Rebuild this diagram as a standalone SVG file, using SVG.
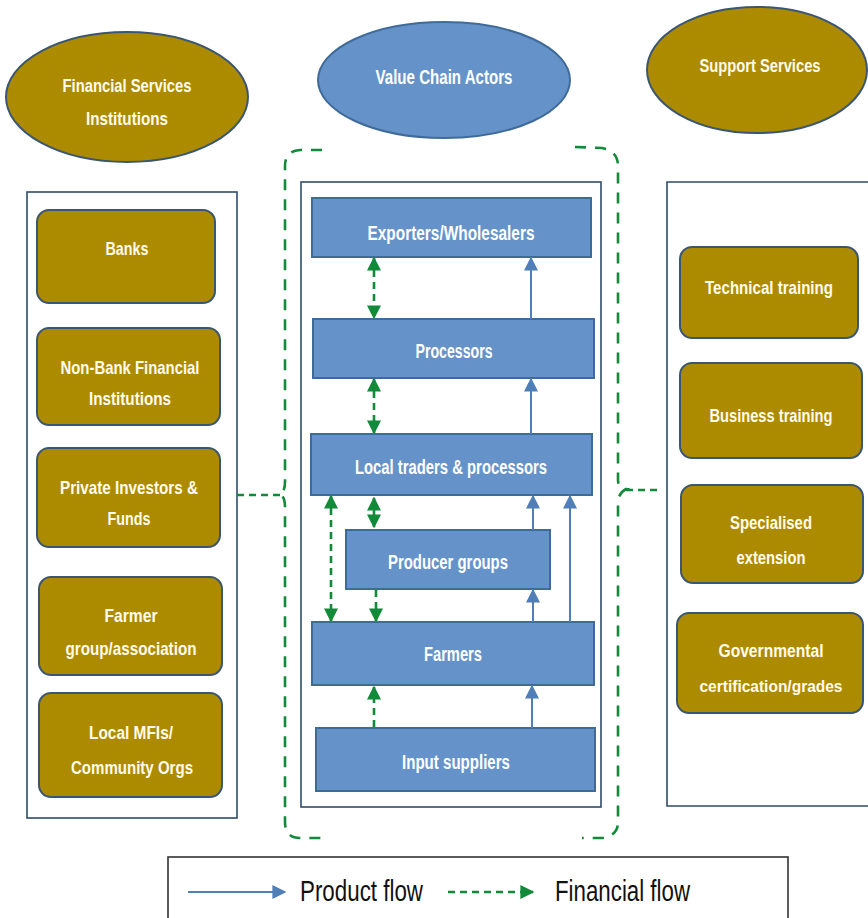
<svg xmlns="http://www.w3.org/2000/svg" width="868" height="918" viewBox="0 0 868 918">
<defs>
<style>
.gold{fill:#AD8B00;stroke:#3B5670;stroke-width:2}
.blue{fill:#6593C9;stroke:#3F6B99;stroke-width:2}
.cont{fill:#FFFFFF;stroke:#2F4C6A;stroke-width:1.6}
.t{font-family:"Liberation Sans",Arial,sans-serif;font-size:19px;font-weight:bold;fill:#FFFBEA;text-anchor:middle}
.tb{font-family:"Liberation Sans",Arial,sans-serif;font-size:20px;font-weight:bold;fill:#FFFFFF;text-anchor:middle}
.lg{font-family:"Liberation Sans",Arial,sans-serif;font-size:29px;fill:#111111}
.prod{fill:none;stroke:#4F7FB6;stroke-width:2}
.fin{fill:none;stroke:#118A3A;stroke-width:2.6;stroke-dasharray:7 5}
.brk{fill:none;stroke:#118A3A;stroke-width:2.6;stroke-dasharray:11 9}
</style>
<marker id="pb" viewBox="0 0 10 10" refX="9" refY="5" markerWidth="14" markerHeight="14" markerUnits="userSpaceOnUse" orient="auto">
<path d="M0,0 L10,5 L0,10 z" fill="#4F7FB6"/>
</marker>
<marker id="fa" viewBox="0 0 10 10" refX="9" refY="5" markerWidth="14" markerHeight="14" markerUnits="userSpaceOnUse" orient="auto-start-reverse">
<path d="M0,0 L10,5 L0,10 z" fill="#118A3A"/>
</marker>
</defs>

<!-- ellipses -->
<g id="fsi"><ellipse cx="127" cy="97" rx="121" ry="65" class="gold"/>
<text class="t" x="127" y="92" textLength="129" lengthAdjust="spacingAndGlyphs">Financial Services</text>
<text class="t" x="127" y="125" textLength="82" lengthAdjust="spacingAndGlyphs">Institutions</text></g>
<g id="vca"><ellipse cx="444" cy="80" rx="126" ry="58" class="blue"/>
<text class="tb" x="444" y="84" textLength="137" lengthAdjust="spacingAndGlyphs">Value Chain Actors</text></g>
<g id="ss"><ellipse cx="757" cy="70" rx="110" ry="63" class="gold"/>
<text class="t" x="760" y="72" textLength="121" lengthAdjust="spacingAndGlyphs">Support Services</text></g>

<!-- containers -->
<g id="left-container"><rect x="27" y="192" width="210" height="626" class="cont"/></g>
<g id="mid-container"><rect x="301" y="182" width="300" height="625" class="cont"/></g>
<g id="right-container"><path d="M868,182 H667 V806 H868" class="cont"/></g>

<!-- left boxes -->
<g id="banks"><rect x="37" y="210" width="178" height="93" rx="12" class="gold"/>
<text class="t" x="127" y="255" textLength="43" lengthAdjust="spacingAndGlyphs">Banks</text></g>
<g id="nbfi"><rect x="37" y="328" width="183" height="97" rx="12" class="gold"/>
<text class="t" x="130" y="374" textLength="139" lengthAdjust="spacingAndGlyphs">Non-Bank Financial</text>
<text class="t" x="130" y="405" textLength="82" lengthAdjust="spacingAndGlyphs">Institutions</text></g>
<g id="pif"><rect x="37" y="448" width="183" height="99" rx="12" class="gold"/>
<text class="t" x="129" y="494" textLength="138" lengthAdjust="spacingAndGlyphs">Private Investors &amp;</text>
<text class="t" x="129" y="525" textLength="43" lengthAdjust="spacingAndGlyphs">Funds</text></g>
<g id="fga"><rect x="39" y="577" width="183" height="98" rx="12" class="gold"/>
<text class="t" x="131" y="622" textLength="53" lengthAdjust="spacingAndGlyphs">Farmer</text>
<text class="t" x="131" y="655" textLength="131" lengthAdjust="spacingAndGlyphs">group/association</text></g>
<g id="mfi"><rect x="39" y="693" width="183" height="104" rx="12" class="gold"/>
<text class="t" x="131" y="739" textLength="84" lengthAdjust="spacingAndGlyphs">Local MFIs/</text>
<text class="t" x="132" y="774" textLength="122" lengthAdjust="spacingAndGlyphs">Community Orgs</text></g>

<!-- right boxes -->
<g id="tech"><rect x="680" y="247" width="178" height="91" rx="12" class="gold"/>
<text class="t" x="769" y="294" textLength="128" lengthAdjust="spacingAndGlyphs">Technical training</text></g>
<g id="bus"><rect x="680" y="363" width="182" height="95" rx="12" class="gold"/>
<text class="t" x="771" y="422" textLength="123" lengthAdjust="spacingAndGlyphs">Business training</text></g>
<g id="ext"><rect x="681" y="485" width="182" height="98" rx="12" class="gold"/>
<text class="t" x="771" y="529" textLength="82" lengthAdjust="spacingAndGlyphs">Specialised</text>
<text class="t" x="771" y="564" textLength="69" lengthAdjust="spacingAndGlyphs">extension</text></g>
<g id="gov"><rect x="677" y="613" width="186" height="100" rx="12" class="gold"/>
<text class="t" x="771" y="657" textLength="105" lengthAdjust="spacingAndGlyphs">Governmental</text>
<text class="t" x="771" y="692" style="font-size:16px" textLength="143" lengthAdjust="spacingAndGlyphs">certification/grades</text></g>

<!-- value chain boxes -->
<g id="exp"><rect x="312" y="198" width="279" height="59" class="blue"/>
<text class="tb" x="451" y="240" textLength="167" lengthAdjust="spacingAndGlyphs">Exporters/Wholesalers</text></g>
<g id="proc"><rect x="313" y="319" width="281" height="59" class="blue"/>
<text class="tb" x="454" y="358" textLength="77" lengthAdjust="spacingAndGlyphs">Processors</text></g>
<g id="ltp"><rect x="311" y="434" width="281" height="61" class="blue"/>
<text class="tb" x="451" y="474" textLength="192" lengthAdjust="spacingAndGlyphs">Local traders &amp; processors</text></g>
<g id="pg"><rect x="346" y="530" width="204" height="59" class="blue"/>
<text class="tb" x="448" y="569" textLength="120" lengthAdjust="spacingAndGlyphs">Producer groups</text></g>
<g id="farm"><rect x="312" y="622" width="282" height="63" class="blue"/>
<text class="tb" x="453" y="661" textLength="58" lengthAdjust="spacingAndGlyphs">Farmers</text></g>
<g id="inp"><rect x="316" y="728" width="279" height="63" class="blue"/>
<text class="tb" x="456" y="769" textLength="108" lengthAdjust="spacingAndGlyphs">Input suppliers</text></g>

<!-- connectors -->
<g id="connectors">
<path class="prod" d="M531,319 V258" marker-end="url(#pb)"/>
<path class="prod" d="M531,434 V379" marker-end="url(#pb)"/>
<path class="prod" d="M533,530 V496" marker-end="url(#pb)"/>
<path class="prod" d="M570,622 V496" marker-end="url(#pb)"/>
<path class="prod" d="M533,622 V590" marker-end="url(#pb)"/>
<path class="prod" d="M532,728 V686" marker-end="url(#pb)"/>
<path class="fin" d="M374,258 V318" marker-start="url(#fa)" marker-end="url(#fa)"/>
<path class="fin" d="M374,379 V433" marker-start="url(#fa)" marker-end="url(#fa)"/>
<path class="fin" d="M331,496 V621" marker-start="url(#fa)" marker-end="url(#fa)"/>
<path class="fin" d="M374,498 V527" marker-start="url(#fa)" marker-end="url(#fa)"/>
<path class="fin" d="M376,590 V621" marker-end="url(#fa)"/>
<path class="fin" d="M374,727 V687" marker-end="url(#fa)"/>
<path class="brk" d="M322,150 L300,150 Q285,151 285,166 L285,482 Q285,492 280,494 Q285,497 285,507 L285,822 Q285,838 300,838 L322,838"/>
<path class="fin" d="M237,495 H280"/>
<path class="brk" d="M575,147 L602,148 Q618,151 618,166 L618,480 Q618,488 626,489 Q620,492 618,500 L618,822 Q618,836 602,838 L582,838"/>
<path class="fin" d="M626,490 H662"/>
</g>

<!-- legend -->
<g id="legend">
<rect x="168" y="857" width="620" height="70" fill="#FFFFFF" stroke="#333333" stroke-width="1.6"/>
<path class="prod" d="M188,892 H285" marker-end="url(#pb)"/>
<text class="lg" x="300" y="901" textLength="123" lengthAdjust="spacingAndGlyphs">Product flow</text>
<path class="fin" d="M448,892 H533" marker-end="url(#fa)"/>
<text class="lg" x="555" y="901" textLength="135" lengthAdjust="spacingAndGlyphs">Financial flow</text>
</g>
</svg>
